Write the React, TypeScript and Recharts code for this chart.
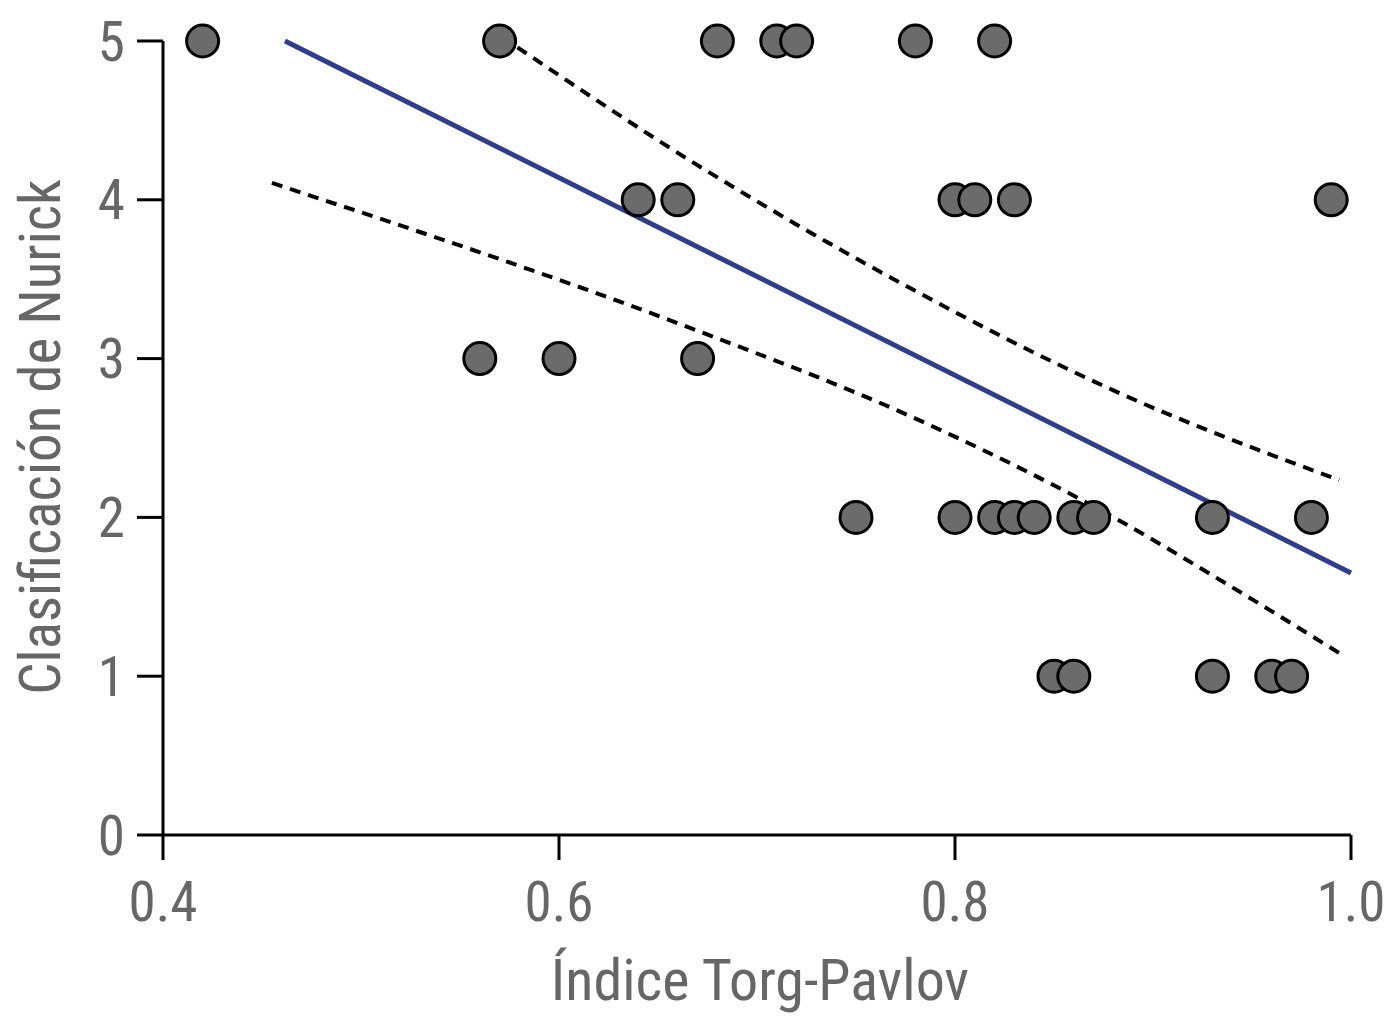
import {
  ComposedChart,
  Scatter,
  Line,
  XAxis,
  YAxis,
} from "recharts";

// Índice Torg-Pavlov vs Clasificación de Nurick
const torgX = [
  0.42, 0.57, 0.68, 0.71, 0.72, 0.78, 0.82,
  0.64, 0.66, 0.8, 0.81, 0.83, 0.99,
  0.56, 0.6, 0.67,
  0.75, 0.8, 0.82, 0.83, 0.84, 0.86, 0.87, 0.93, 0.98,
  0.85, 0.86, 0.93, 0.96, 0.97,
];
const nurickY = [
  5, 5, 5, 5, 5, 5, 5,
  4, 4, 4, 4, 4, 4,
  3, 3, 3,
  2, 2, 2, 2, 2, 2, 2, 2, 2,
  1, 1, 1, 1, 1,
];

const fitX = [0.4616, 1.0];
const fitY = [5.0, 1.65];

const upperX = [0.579, 0.671, 0.772, 0.88, 0.994];
const upperY = [4.96, 4.21, 3.48, 2.8, 2.235];

const lowerX = [0.455, 0.669, 0.776, 0.878, 0.94, 0.994];
const lowerY = [4.106, 3.18, 2.645, 2.015, 1.56, 1.146];

const xTicks = [0.4, 0.6, 0.8, 1.0];
const yTicks = [0, 1, 2, 3, 4, 5];

const zip = (xs: number[], ys: number[]) => xs.map((x, i) => ({ x, y: ys[i] }));

const points = zip(torgX, nurickY);
const fit = zip(fitX, fitY);
const upper = zip(upperX, upperY);
const lower = zip(lowerX, lowerY);

const FONT = "'Liberation Sans Narrow', 'Arial Narrow', 'Roboto Condensed', 'Liberation Sans', sans-serif";
const GREY = "#666666";

const Dot = (props: any) => {
  const { cx, cy } = props;
  return <circle cx={cx} cy={cy} r={16} fill="#6b6b6b" stroke="#000" strokeWidth={3} />;
};

export default function App() {
  return (
    <div style={{ position: "absolute", left: 0, top: 0, background: "#fff" }}>
      <ComposedChart
        width={1397}
        height={1024}
        margin={{ top: 41, right: 46, bottom: 0, left: 0 }}
      >
        <XAxis
          type="number"
          dataKey="x"
          domain={[0.4, 1.0]}
          ticks={xTicks}
          tickFormatter={(v: number) => v.toFixed(1)}
          height={189}
          tickSize={25}
          tickMargin={22}
          stroke="#000"
          strokeWidth={3}
          tick={{ fill: GREY, fontSize: 55, fontFamily: FONT }}
          label={{
            content: () => (
              <text x={760} y={1000} textAnchor="middle" fill={GREY} fontSize={58} fontFamily={FONT}>
                Índice Torg-Pavlov
              </text>
            ),
          }}
        />
        <YAxis
          type="number"
          dataKey="y"
          domain={[0, 5]}
          ticks={yTicks}
          width={163}
          tickSize={26}
          tickMargin={12}
          stroke="#000"
          strokeWidth={3}
          tick={{ fill: GREY, fontSize: 55, fontFamily: FONT }}
          label={{
            content: () => (
              <text
                x={40}
                y={437}
                transform="rotate(-90 40 437)"
                textAnchor="middle"
                dominantBaseline="central"
                fill={GREY}
                fontSize={57}
                fontFamily={FONT}
              >
                Clasificación de Nurick
              </text>
            ),
          }}
        />
        <Scatter data={points} shape={Dot} isAnimationActive={false} />
        <Line
          data={fit}
          dataKey="y"
          type="linear"
          stroke="#2f3d8c"
          strokeWidth={5}
          dot={false}
          isAnimationActive={false}
        />
        <Line
          data={upper}
          dataKey="y"
          type="monotone"
          stroke="#000"
          strokeWidth={4}
          strokeDasharray="11 8"
          dot={false}
          isAnimationActive={false}
        />
        <Line
          data={lower}
          dataKey="y"
          type="monotone"
          stroke="#000"
          strokeWidth={4}
          strokeDasharray="11 8"
          dot={false}
          isAnimationActive={false}
        />
      </ComposedChart>
    </div>
  );
}
